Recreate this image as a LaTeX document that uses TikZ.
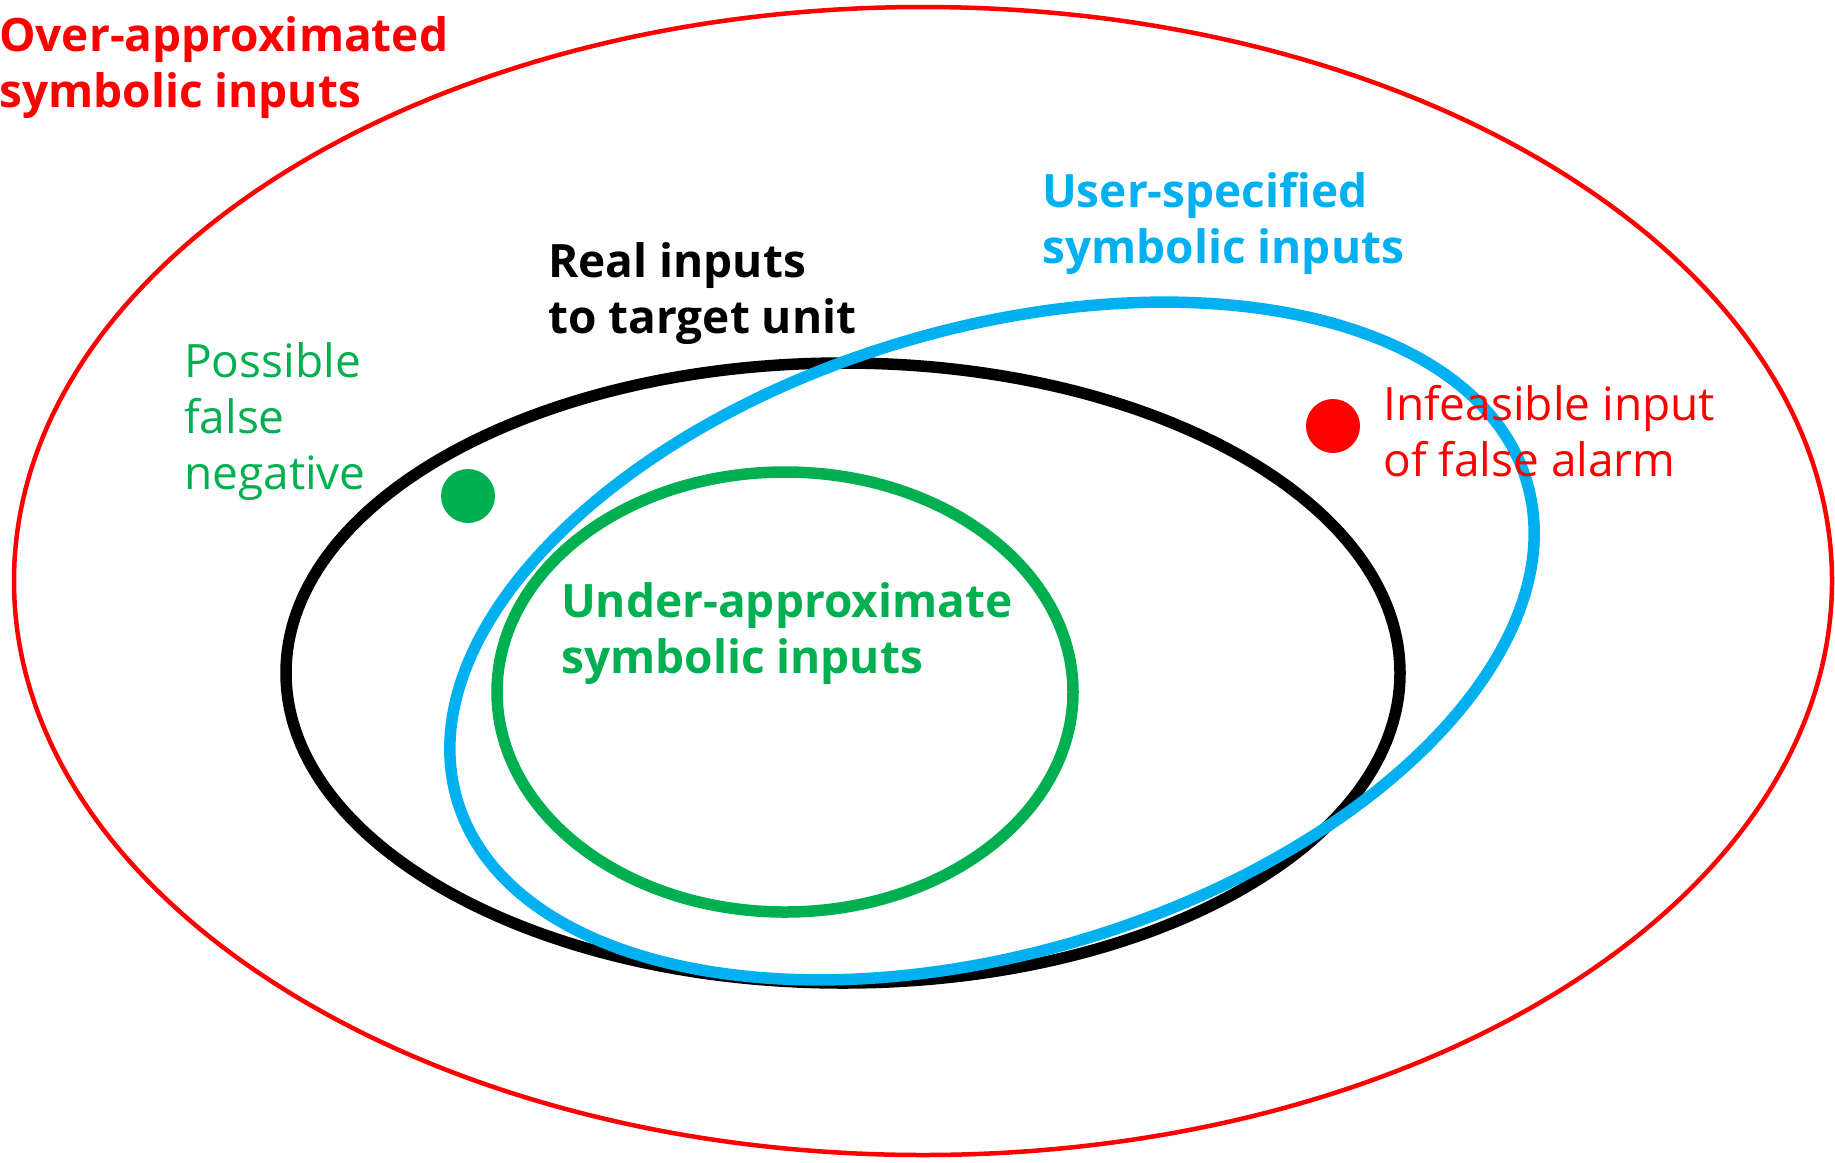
\documentclass[tikz,border=0pt]{standalone}
\usepackage{fontspec}
\setmainfont{Open Sans}
\definecolor{cred}{HTML}{FF0000}
\definecolor{cblue}{HTML}{00B0F0}
\definecolor{cgreen}{HTML}{00B050}
\begin{document}
\begin{tikzpicture}[x=1pt,y=1pt,
  lbl/.style={anchor=base west,inner sep=0pt,align=left,font=\fontsize{46}{56}\selectfont},
  lblb/.style={lbl,font=\fontsize{46}{56}\selectfont\bfseries},
  ring/.style={line width=11.5pt}]
\useasboundingbox (0,0) rectangle (1835,-1162);
% outer over-approximation
\draw[cred,line width=4.5pt] (923,-581) ellipse [x radius=909, y radius=574];
% real inputs
\draw[ring,black] (843,-673) ellipse [x radius=557, y radius=310];
% under-approximation
\draw[ring,cgreen] (785,-692) ellipse [x radius=288, y radius=220];
% user-specified
\draw[ring,cblue,rotate around={16.6:(992,-641)}] (992,-641) ellipse [x radius=558, y radius=312];
% dots
\fill[cgreen] (468,-496) circle (27);
\fill[cred] (1333,-426) circle (27);
% labels (anchor = baseline of the last line)
\node[lblb,text=cred] (over) at (-1,-107) {Over-approximated\\symbolic inputs};
\node[lblb,text=cblue] (user) at (1042,-263) {User-specified\\symbolic inputs};
\node[lblb,text=black] (real) at (548,-333) {Real inputs\\to target unit};
\node[lbl,text=cgreen] (poss) at (184,-489) {Possible\\false\\negative};
\node[lbl,text=cred] (infe) at (1383,-476) {Infeasible input\\of false alarm};
\node[lblb,text=cgreen] (under) at (561,-673) {Under-approximate\\symbolic inputs};
\end{tikzpicture}
\end{document}
